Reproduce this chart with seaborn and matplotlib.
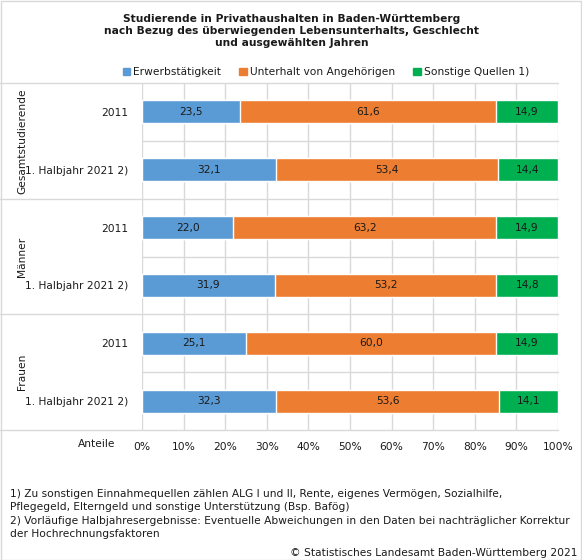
import numpy as np
import pandas as pd
import matplotlib.pyplot as plt
import seaborn as sns
from matplotlib.patches import Patch, Rectangle

# ---- data ----
groups = ["Gesamtstudierende", "Männer", "Frauen"]
periods = ["2011", "1. Halbjahr 2021 2)"]
series = ["Erwerbstätigkeit", "Unterhalt von Angehörigen", "Sonstige Quellen 1)"]
erwerb = [23.5, 32.1, 22.0, 31.9, 25.1, 32.3]
unterhalt = [61.6, 53.4, 63.2, 53.2, 60.0, 53.6]
sonstige = [14.9, 14.4, 14.9, 14.8, 14.9, 14.1]
xticks = [0, 10, 20, 30, 40, 50, 60, 70, 80, 90, 100]

title = ("Studierende in Privathaushalten in Baden-Württemberg\n"
         "nach Bezug des überwiegenden Lebensunterhalts, Geschlecht\n"
         "und ausgewählten Jahren")
footnotes = ("1) Zu sonstigen Einnahmequellen zählen ALG I und II, Rente, eigenes Vermögen, Sozialhilfe,\n"
             "Pflegegeld, Elterngeld und sonstige Unterstützung (Bsp. Bafög)\n"
             "2) Vorläufige Halbjahresergebnisse: Eventuelle Abweichungen in den Daten bei nachträglicher Korrektur\n"
             "der Hochrechnungsfaktoren")
source = "© Statistisches Landesamt Baden-Württemberg 2021"

COLORS = ["#5B9BD5", "#ED7D31", "#00B050"]
GRID = "#D9D9D9"
INK = "#1A1A1A"
FS = 7.7

sns.set_theme(style="white")
plt.rcParams["font.family"] = ["DejaVu Sans"]

rows = [f"{g}|{p}" for g in groups for p in periods]
vals = np.array([erwerb, unterhalt, sonstige]).T
share = vals / vals.sum(axis=1, keepdims=True) * 100
cum = share.cumsum(axis=1)
df = pd.DataFrame(cum, columns=series)
df["row"] = rows

W, H = 582, 560
fig = plt.figure(figsize=(W / 100, H / 100), dpi=100)
ax = fig.add_axes([142 / W, 1 - 430 / H, 416 / W, 347 / H])

# stacked bars: draw cumulative totals back to front
for k in [2, 1, 0]:
    sns.barplot(data=df, x=series[k], y="row", order=rows, orient="h",
                color=COLORS[k], saturation=1, width=0.4, ax=ax, zorder=3)

for i in range(len(rows)):
    for k in range(3):
        ax.text(cum[i, k] - share[i, k] / 2, i, f"{vals[i, k]:.1f}".replace(".", ","),
                ha="center", va="center", fontsize=FS, color=INK, zorder=4)

ax.set_xlim(0, 100)
ax.set_ylim(len(rows) - 0.5, -0.5)
ax.set_xticks(xticks)
ax.set_xticklabels([f"{t}%" for t in xticks], fontsize=FS, color=INK)
ax.set_yticks(range(len(rows)))
ax.set_yticklabels([r.split("|")[1] for r in rows], fontsize=FS, color=INK)
ax.tick_params(length=0, pad=9)
ax.tick_params(axis="y", pad=10)
ax.set_xlabel(""); ax.set_ylabel("")
for s in ax.spines.values():
    s.set_visible(False)
for t in xticks:
    ax.axvline(t, color=GRID, lw=1, zorder=1)
for b in np.arange(-0.5, len(rows), 1):
    major = (b + 0.5) % 2 == 0
    ax.axhline(b, xmin=(-142 / 416 if major else 0), xmax=1, color=GRID, lw=1,
               clip_on=False, zorder=1)

# group labels (rotated)
for j, g in enumerate(groups):
    ax.text(-120 / 416, 2 * j + 0.5, g, transform=ax.get_yaxis_transform(),
            rotation=90, ha="center", va="center", fontsize=FS, color=INK)

fig.text(115 / W, 1 - 444 / H, "Anteile", ha="right", va="center", fontsize=FS, color=INK)

fig.text(292 / W, 1 - 31 / H, title, ha="center", va="center", fontsize=FS,
         fontweight="bold", color=INK, linespacing=1.2)

handles = [Patch(color=c, label=s) for c, s in zip(COLORS, series)]
fig.legend(handles=handles, loc="center", bbox_to_anchor=(326 / W, 1 - 72 / H), ncol=3,
           frameon=False, fontsize=FS, handlelength=0.7, handleheight=0.7,
           handletextpad=0.3, columnspacing=1.7, labelcolor=INK)

fig.text(10 / W, 1 - 514 / H, footnotes, ha="left", va="center", fontsize=FS,
         color=INK, linespacing=1.4)
fig.text(577 / W, 1 - 553 / H, source, ha="right", va="center", fontsize=FS, color=INK)

fig.patches.append(Rectangle((0.5 / W, 0.5 / H), 1 - 1.5 / W, 1 - 1.5 / H,
                             transform=fig.transFigure, fill=False, edgecolor=GRID, lw=1))

fig.savefig("out.png", dpi=100)
